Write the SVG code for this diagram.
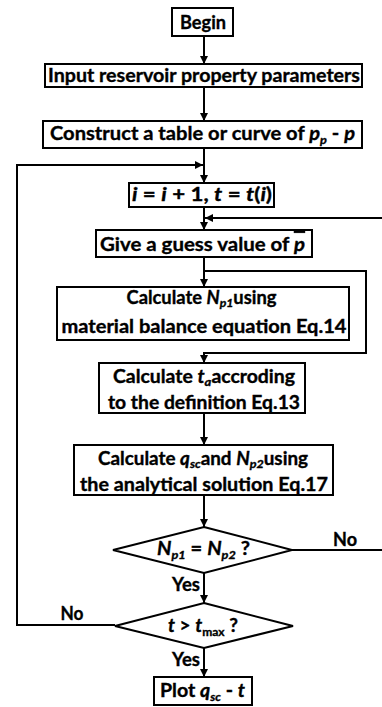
<svg xmlns="http://www.w3.org/2000/svg" width="382" height="707" viewBox="0 0 382 707">
<style>
.box{fill:#fff;stroke:#000;stroke-width:2}
.ln{fill:none;stroke:#000;stroke-width:2}
text{font-family:Lato,"Liberation Sans",sans-serif;font-weight:bold;font-size:19px;fill:#000;stroke:#000;stroke-width:0.35;text-anchor:middle}
.t2{font-size:18px}
.i{font-style:italic}
.sub{font-size:12px}
</style>
<defs>
<marker id="ah" viewBox="0 0 8 8" refX="8" refY="4" markerWidth="8" markerHeight="8" markerUnits="userSpaceOnUse" orient="auto">
<path d="M0,0 L8,4 L0,8 z" fill="#000"/>
</marker>
</defs>
<rect width="382" height="707" fill="#fff"/>
<g id="connectors">
<line class="ln" x1="204" y1="36" x2="204" y2="64" marker-end="url(#ah)"/>
<line class="ln" x1="204" y1="87" x2="204" y2="121" marker-end="url(#ah)"/>
<line class="ln" x1="204" y1="148" x2="204" y2="183" marker-end="url(#ah)"/>
<line class="ln" x1="204" y1="207" x2="204" y2="230" marker-end="url(#ah)"/>
<line class="ln" x1="204" y1="257" x2="204" y2="287" marker-end="url(#ah)"/>
<polyline class="ln" points="204,271 366,271 366,353 204,353 204,363" marker-end="url(#ah)"/>
<line class="ln" x1="204" y1="413" x2="204" y2="445" marker-end="url(#ah)"/>
<line class="ln" x1="204" y1="495" x2="204" y2="527" marker-end="url(#ah)"/>
<line class="ln" x1="204" y1="573" x2="204" y2="603" marker-end="url(#ah)"/>
<line class="ln" x1="204" y1="648" x2="204" y2="677" marker-end="url(#ah)"/>
<line class="ln" x1="292" y1="550" x2="382" y2="550"/>
<line class="ln" x1="382" y1="218" x2="205" y2="218" marker-end="url(#ah)"/>
<polyline class="ln" points="115,625 17,625 17,165 203,165" marker-end="url(#ah)"/>
<text x="345" y="546" textLength="24" lengthAdjust="spacingAndGlyphs">No</text>
<text x="72" y="620" textLength="23" lengthAdjust="spacingAndGlyphs">No</text>
<text x="186" y="591" textLength="28" lengthAdjust="spacingAndGlyphs">Yes</text>
<text x="186" y="666" textLength="28" lengthAdjust="spacingAndGlyphs">Yes</text>
</g>
<g id="begin">
<rect class="box" x="172" y="8" width="61" height="28"/>
<text x="203" y="29" textLength="46" lengthAdjust="spacingAndGlyphs">Begin</text>
</g>
<g id="input">
<rect class="box" x="45" y="64" width="317" height="23"/>
<text x="204" y="82" textLength="312" lengthAdjust="spacingAndGlyphs">Input reservoir property parameters</text>
</g>
<g id="construct">
<rect class="box" x="43" y="121" width="319" height="27"/>
<text x="202.5" y="140" textLength="305" lengthAdjust="spacingAndGlyphs">Construct a table or curve of <tspan class="i">p</tspan><tspan class="i sub" dy="4">p</tspan><tspan dy="-4"> - </tspan><tspan class="i">p</tspan></text>
</g>
<g id="increment">
<rect class="box" x="129" y="183" width="145" height="24"/>
<text x="202" y="201" textLength="140" lengthAdjust="spacingAndGlyphs"><tspan class="i">i</tspan> = <tspan class="i">i</tspan> + 1,  <tspan class="i">t</tspan> = <tspan class="i">t</tspan>(<tspan class="i">i</tspan>)</text>
</g>
<g id="guess">
<rect class="box" x="96" y="230" width="216" height="27"/>
<text x="202.5" y="251" textLength="205" lengthAdjust="spacingAndGlyphs">Give a guess value of <tspan class="i" text-decoration="overline">p</tspan></text>
</g>
<g id="np1">
<rect class="box" x="57" y="287" width="292" height="53"/>
<text class="t2" x="201.5" y="304" textLength="150" lengthAdjust="spacingAndGlyphs">Calculate <tspan class="i">N</tspan><tspan class="i sub" dy="3">p1</tspan><tspan dy="-3">using</tspan></text>
<text class="t2" x="204" y="333" textLength="285" lengthAdjust="spacingAndGlyphs">material balance equation Eq.14</text>
</g>
<g id="ta">
<rect class="box" x="99" y="363" width="206" height="50"/>
<text class="t2" x="204" y="383" textLength="182" lengthAdjust="spacingAndGlyphs">Calculate <tspan class="i">t</tspan><tspan class="i sub" dy="3">a</tspan><tspan dy="-3">accroding</tspan></text>
<text class="t2" x="204" y="409" textLength="192" lengthAdjust="spacingAndGlyphs">to the definition Eq.13</text>
</g>
<g id="qsc">
<rect class="box" x="74" y="445" width="259" height="50"/>
<text class="t2" x="203" y="465" textLength="210" lengthAdjust="spacingAndGlyphs">Calculate <tspan class="i">q</tspan><tspan class="i sub" dy="3">sc</tspan><tspan dy="-3">and </tspan><tspan class="i">N</tspan><tspan class="i sub" dy="3">p2</tspan><tspan dy="-3">using</tspan></text>
<text class="t2" x="204" y="491" textLength="248" lengthAdjust="spacingAndGlyphs">the analytical solution Eq.17</text>
</g>
<g id="check1">
<polygon class="box" points="204,527 292,550 204,573 113,550"/>
<text x="203.5" y="555" textLength="93" lengthAdjust="spacingAndGlyphs"><tspan class="i">N</tspan><tspan class="i sub" dy="4">p1</tspan><tspan dy="-4"> = </tspan><tspan class="i">N</tspan><tspan class="i sub" dy="4">p2</tspan><tspan dy="-4"> ?</tspan></text>
</g>
<g id="check2">
<polygon class="box" points="204,603 293,626 204,648 115,626"/>
<text x="203" y="632" textLength="70" lengthAdjust="spacingAndGlyphs"><tspan class="i">t</tspan> &gt; <tspan class="i">t</tspan><tspan class="sub" dy="4">max</tspan><tspan dy="-4"> ?</tspan></text>
</g>
<g id="plot">
<rect class="box" x="154" y="677" width="98" height="28"/>
<text x="202.5" y="697" textLength="85" lengthAdjust="spacingAndGlyphs">Plot <tspan class="i">q</tspan><tspan class="i sub" dy="4">sc</tspan><tspan dy="-4"> - </tspan><tspan class="i">t</tspan></text>
</g>
</svg>
